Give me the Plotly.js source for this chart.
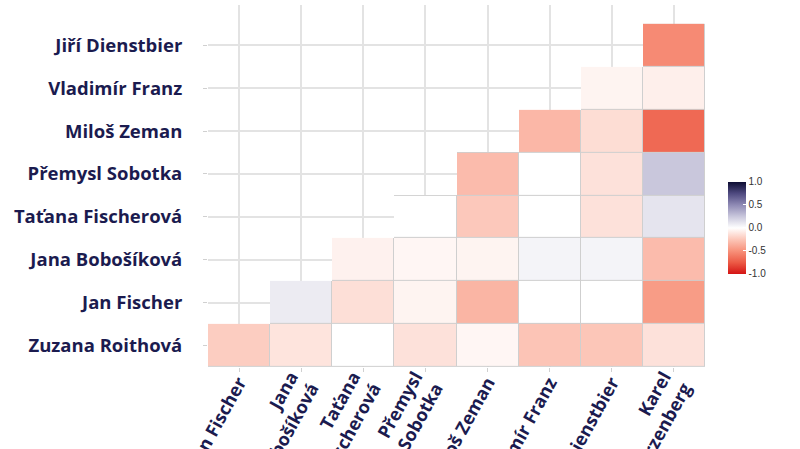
<!DOCTYPE html>
<html>
<head>
<meta charset="utf-8">
<script src="https://cdn.plot.ly/plotly-3.0.1.min.js"></script>
<style>html,body{margin:0;padding:0;background:#fff;}#chart{width:800px;height:449px;}</style>
</head>
<body>
<div id="chart"></div>
<script>
// Column (x) categories
const xLabels = ["Jan Fischer", "Jana<br>Bobošíková", "Taťana<br>Fischerová", "Přemysl<br>Sobotka",
  "Miloš Zeman", "Vladimír Franz", "Jiří Dienstbier", "Karel<br>Schwarzenberg"];
// Row (y) categories, bottom to top
const yLabels = ["Zuzana Roithová", "Jan Fischer", "Jana Bobošíková", "Taťana Fischerová",
  "Přemysl Sobotka", "Miloš Zeman", "Vladimír Franz", "Jiří Dienstbier"];
// Correlation values per row (null = not shown)
const rowRoithova   = [-0.22, -0.12, 0.00, -0.13, -0.04, -0.26, -0.25, -0.13];
const rowFischer    = [null, 0.09, -0.14, -0.05, -0.33, 0.00, 0.00, -0.45];
const rowBobosikova = [null, null, -0.06, -0.04, -0.05, 0.05, 0.05, -0.30];
const rowFischerova = [null, null, null, 0.00, -0.24, 0.00, -0.13, 0.12];
const rowSobotka    = [null, null, null, null, -0.30, 0.00, -0.13, 0.25];
const rowZeman      = [null, null, null, null, null, -0.32, -0.15, -0.68];
const rowFranz      = [null, null, null, null, null, null, -0.05, -0.07];
const rowDienstbier = [null, null, null, null, null, null, null, -0.53];
const colorTicks = [-1, -0.5, 0, 0.5, 1];
const colorTickText = ["-1.0", "-0.5", "0.0", "0.5", "1.0"];

const z = [rowRoithova, rowFischer, rowBobosikova, rowFischerova, rowSobotka, rowZeman, rowFranz, rowDienstbier];
const mask = z.map(r => r.map(v => v === null ? null : 1));

const textColor = "#1b1b4f";
const scale = [
  [0, "#d41414"], [0.125, "#ec5a45"], [0.25, "#f7917a"], [0.375, "#fcc6b8"],
  [0.5, "#ffffff"], [0.625, "#c9c7dc"], [0.75, "#8f8ab5"], [0.875, "#4f4a80"], [1, "#0d0d33"]
];

const traces = [
  {
    type: "heatmap", x: xLabels, y: yLabels, z: mask,
    colorscale: [[0, "#cfcfcf"], [1, "#cfcfcf"]], showscale: false, hoverinfo: "skip"
  },
  {
    type: "heatmap", x: xLabels, y: yLabels, z: z,
    zmin: -1, zmax: 1, colorscale: scale, xgap: 1, ygap: 1,
    colorbar: {
      x: 1.047, xanchor: "left", y: 0.385, yanchor: "middle",
      len: 92, lenmode: "pixels", thickness: 18, thicknessmode: "pixels",
      xpad: 0, ypad: 0,
      outlinewidth: 0, tickvals: colorTicks, ticktext: colorTickText,
      ticks: "inside", ticklen: 3, tickcolor: "#ffffff",
      tickfont: {family: "Liberation Sans, Arial, sans-serif", size: 10, color: "#333333"}
    }
  }
];

const tickFont = {family: "Open Sans, sans-serif", size: 18.5, color: textColor, weight: "bold"};

const layout = {
  width: 800, height: 449,
  margin: {l: 208, r: 95, t: 5, b: 82},
  paper_bgcolor: "#ffffff", plot_bgcolor: "#ffffff",
  xaxis: {
    type: "category", range: [-0.5, 7.5], showgrid: true, gridcolor: "#e3e3e3", gridwidth: 2,
    zeroline: false, ticks: "outside", ticklen: 4, tickcolor: "#d0d0d0",
    tickangle: -61, automargin: false, ticklabelstandoff: -7,
    tickfont: {family: "Open Sans, sans-serif", size: 18, color: textColor, weight: "bold"}
  },
  yaxis: {
    type: "category", range: [-0.5, 7.94], showgrid: true, gridcolor: "#e3e3e3", gridwidth: 2,
    zeroline: false, ticks: "outside", ticklen: 4, tickcolor: "#d0d0d0", automargin: false,
    ticklabelstandoff: 17, tickfont: tickFont
  },
  showlegend: false
};

Plotly.newPlot("chart", traces, layout, {displayModeBar: false, staticPlot: true});
</script>
</body>
</html>
